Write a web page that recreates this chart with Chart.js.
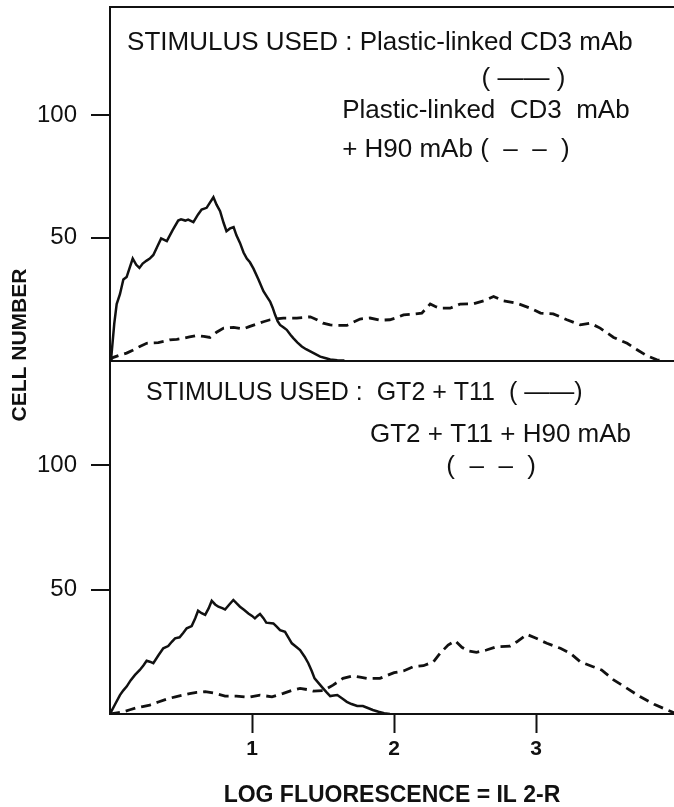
<!DOCTYPE html>
<html>
<head>
<meta charset="utf-8">
<title>IL 2-R fluorescence histograms</title>
<script src="https://cdn.jsdelivr.net/npm/chart.js@4.4.1/dist/chart.umd.min.js"></script>
<style>
  html, body { margin: 0; padding: 0; background: #fff; }
  #chart { display: block; }
</style>
</head>
<body>
<canvas id="chart" width="674" height="807"></canvas>
<script>
// values, [log fluorescence, cell number]
const topSolid = [
  [0, 0], [0.01, 2], [0.03, 15], [0.047, 23], [0.07, 27], [0.094, 33], [0.117, 34], [0.14, 38],
  [0.16, 41.5], [0.185, 39], [0.207, 37.7], [0.23, 39.5], [0.258, 40.7], [0.28, 41.5], [0.305, 43],
  [0.33, 46], [0.36, 49.7], [0.40, 48.6], [0.44, 53], [0.48, 57], [0.50, 57.5], [0.53, 57],
  [0.55, 57.4], [0.587, 56.4], [0.62, 59.5], [0.645, 61.5], [0.68, 62.2], [0.70, 64], [0.728, 66.5],
  [0.75, 63.5], [0.775, 60.8], [0.80, 56], [0.82, 52.7], [0.845, 53.8], [0.87, 54.3], [0.89, 51],
  [0.915, 47.9], [0.94, 44], [0.963, 41.5], [0.985, 40], [1.01, 37.4], [1.045, 33], [1.08, 28.2],
  [1.11, 25.5], [1.127, 24], [1.145, 21.5], [1.162, 18.6], [1.18, 16], [1.197, 14.5], [1.22, 13.5],
  [1.244, 12.5], [1.27, 10.5], [1.29, 9.1], [1.32, 7.3], [1.35, 5.7], [1.38, 4.6], [1.41, 3.7],
  [1.45, 2.5], [1.48, 1.6], [1.52, 0.9], [1.55, 0.4], [1.6, 0.1], [1.65, 0]
];
const topDashed = [
  [0, 0], [0.02, 1.2], [0.06, 2], [0.117, 3], [0.16, 4.2], [0.21, 5.7], [0.258, 7], [0.30, 7.2],
  [0.34, 7.3], [0.38, 7.8], [0.42, 8.4], [0.47, 8.6], [0.516, 9.1], [0.56, 9.6], [0.61, 10.2],
  [0.66, 9.8], [0.704, 9.4], [0.75, 11.5], [0.80, 13.2], [0.87, 13.5], [0.94, 12.9], [0.98, 13.8],
  [1.03, 14.8], [1.08, 15.8], [1.127, 16.6], [1.22, 17.3], [1.315, 17.3], [1.41, 17.8], [1.46, 16.5],
  [1.50, 15.2], [1.55, 14.5], [1.60, 14.3], [1.667, 14.3], [1.71, 15.5], [1.76, 16.9], [1.83, 17.3],
  [1.90, 16.4], [1.97, 16.6], [2.02, 17.5], [2.066, 18.6], [2.136, 18.9], [2.195, 19.3], [2.254, 23],
  [2.29, 22], [2.324, 21.3], [2.394, 21.3], [2.465, 23], [2.56, 23.1], [2.63, 24.3], [2.70, 26.1],
  [2.77, 24.3], [2.864, 23.3], [2.96, 21.3], [3.03, 19.3], [3.12, 19], [3.216, 16.6], [3.31, 14.5],
  [3.38, 15.2], [3.45, 13.2], [3.545, 9.4], [3.64, 7], [3.71, 4.4], [3.78, 1.9], [3.85, 0.3], [3.88, 0]
];
const bottomSolid = [
  [0, 0], [0.035, 3.8], [0.07, 7.6], [0.094, 9.5], [0.117, 11], [0.145, 13.5], [0.176, 15.7],
  [0.21, 17.7], [0.235, 19.5], [0.258, 21.4], [0.28, 21], [0.305, 20.4], [0.34, 23.5], [0.375, 26.4],
  [0.41, 27.3], [0.435, 29], [0.458, 30.4], [0.49, 30.8], [0.515, 32.5], [0.54, 34.4], [0.575, 35.3],
  [0.60, 38.5], [0.62, 41.5], [0.645, 40.5], [0.67, 39.8], [0.695, 42.5], [0.716, 45.5], [0.74, 44],
  [0.763, 43.1], [0.79, 42.5], [0.81, 42], [0.84, 44], [0.868, 45.8], [0.89, 44.5], [0.915, 43.1],
  [0.945, 41.8], [0.974, 40.4], [1.0, 39.4], [1.02, 38.4], [1.04, 39.5], [1.056, 40.2], [1.08, 38.5],
  [1.10, 36.7], [1.15, 36.4], [1.175, 35], [1.197, 33.7], [1.232, 33], [1.255, 30.8], [1.28, 28.4],
  [1.31, 27], [1.338, 25.7], [1.37, 23], [1.396, 20.4], [1.42, 17.3], [1.44, 14.3], [1.47, 12.3],
  [1.50, 10.3], [1.525, 8.7], [1.55, 7.2], [1.575, 7.4], [1.60, 7.6], [1.635, 6.2], [1.667, 4.9],
  [1.70, 4], [1.74, 3.2], [1.78, 3.2], [1.815, 2.4], [1.85, 1.6], [1.89, 0.9], [1.93, 0.3], [1.97, 0]
];
const bottomDashed = [
  [0, 0], [0.05, 0.5], [0.094, 0.9], [0.14, 1.7], [0.188, 2.5], [0.23, 3], [0.28, 3.6], [0.34, 4.8],
  [0.40, 6], [0.46, 6.9], [0.516, 7.6], [0.56, 8.2], [0.61, 8.7], [0.67, 9], [0.74, 8.3], [0.81, 7.2],
  [0.89, 7.2], [0.974, 6.7], [1.056, 7.6], [1.14, 6.9], [1.22, 8.3], [1.28, 9.5], [1.338, 10.3],
  [1.39, 9.8], [1.43, 9.2], [1.50, 9.4], [1.57, 11.6], [1.64, 14.3], [1.71, 15.3], [1.76, 14.8],
  [1.81, 14.3], [1.90, 14.3], [1.96, 15.7], [2.0, 16.6], [2.066, 17.3], [2.136, 19], [2.206, 19.4],
  [2.277, 21], [2.324, 24.4], [2.38, 27.7], [2.43, 29.4], [2.477, 26.8], [2.52, 25.4], [2.58, 24.8],
  [2.65, 25.7], [2.72, 27], [2.817, 27.3], [2.864, 29], [2.934, 32], [3.0, 30.4], [3.075, 28.4],
  [3.17, 26.4], [3.24, 24.4], [3.31, 21], [3.40, 19], [3.46, 17.7], [3.545, 13.7], [3.64, 10.3],
  [3.73, 7], [3.83, 3.9], [3.92, 1.7], [3.97, 0.5]
];

const xTicks = [1, 2, 3];
const yTicks = [50, 100];
const xMax = 3.97;
const topMax = 144;
const bottomMax = 142;

const xTitle = 'LOG FLUORESCENCE = IL 2-R';
const yTitle = 'CELL NUMBER';

// panel captions, placed in data units of each panel
const notes = [
  { axis: 'yTop', text: 'STIMULUS USED : Plastic-linked CD3 mAb', x: 0.12, y: 129.3, align: 'left', size: 26 },
  { axis: 'yTop', text: '( —— )', x: 2.91, y: 114.7, align: 'center', size: 26 },
  { axis: 'yTop', text: 'Plastic-linked  CD3  mAb', x: 1.634, y: 101.6, align: 'left', size: 26 },
  { axis: 'yTop', text: '+ H90 mAb (  –  –  )', x: 1.634, y: 85.7, align: 'left', size: 26 },
  { axis: 'yBottom', text: 'STIMULUS USED :  GT2 + T11  ( ——)', x: 0.254, y: 128.9, align: 'left', size: 25 },
  { axis: 'yBottom', text: 'GT2 + T11 + H90 mAb', x: 1.83, y: 112, align: 'left', size: 26 },
  { axis: 'yBottom', text: '(  –  –  )', x: 2.683, y: 99.2, align: 'center', size: 26 }
];

const ink = '#111';
const family = '"Liberation Sans", Arial, Helvetica, sans-serif';

const toPoints = pairs => pairs.map(([x, y]) => ({ x, y }));

const notesPlugin = {
    id: 'notes',
    afterDraw(chart) {
        const ctx = chart.ctx;
        ctx.save();
        ctx.fillStyle = ink;
        ctx.textBaseline = 'middle';
        notes.forEach(n => {
            ctx.font = `${n.size}px ${family}`;
            ctx.textAlign = n.align;
            ctx.fillText(n.text, chart.scales.x.getPixelForValue(n.x), chart.scales[n.axis].getPixelForValue(n.y));
        });

        // one y title shared by both panels
        ctx.translate(20, 345);
        ctx.rotate(-Math.PI / 2);
        ctx.textAlign = 'center';
        ctx.font = `bold 21px ${family}`;
        ctx.fillText(yTitle, 0, 0);
        ctx.restore();
    }
};

function yAxis(max, frame) {
    return {
        type: 'linear',
        position: 'left',
        stack: 'cells',
        stackWeight: 1,
        min: 0,
        max: max,
        afterBuildTicks: s => {
            const values = frame ? [0, ...yTicks, max] : yTicks;
            s.ticks = values.map(v => ({ value: v }));
        },
        afterFit: s => {
            s.width = 110;
            // keep tick labels from pushing the plot area down
            s.paddingTop = 0;
            s.paddingBottom = 0;
        },
        border: { display: true, color: ink, width: 2 },
        grid: {
            drawOnChartArea: frame,
            lineWidth: 2,
            color: c => (c.tick && (c.tick.value === 0 || c.tick.value === max)) ? ink : 'rgba(0,0,0,0)',
            tickLength: 19,
            tickWidth: 2,
            tickColor: c => (c.tick && yTicks.includes(c.tick.value)) ? ink : 'rgba(0,0,0,0)'
        },
        ticks: {
            color: ink,
            padding: 14,
            font: { family, size: 24 },
            callback: v => yTicks.includes(v) ? String(v) : ''
        }
    };
}

new Chart(document.getElementById('chart'), {
    type: 'line',
    data: {
        datasets: [
            { data: toPoints(topSolid), yAxisID: 'yTop', borderColor: ink, borderWidth: 2.5 },
            { data: toPoints(topDashed), yAxisID: 'yTop', borderColor: ink, borderWidth: 2.8, borderDash: [10, 6] },
            { data: toPoints(bottomSolid), yAxisID: 'yBottom', borderColor: ink, borderWidth: 2.5 },
            { data: toPoints(bottomDashed), yAxisID: 'yBottom', borderColor: ink, borderWidth: 2.8, borderDash: [10, 6] }
        ]
    },
    options: {
        responsive: false,
        animation: false,
        devicePixelRatio: 1,
        layout: { padding: { top: 7, left: 0, right: 0, bottom: 0 } },
        elements: { point: { radius: 0 }, line: { tension: 0, fill: false } },
        plugins: { legend: { display: false }, tooltip: { enabled: false } },
        scales: {
            x: {
                type: 'linear',
                min: 0,
                max: xMax,
                afterBuildTicks: s => { s.ticks = xTicks.map(v => ({ value: v })); },
                afterFit: s => {
                    s.height = 93;
                    s.paddingLeft = 0;
                    s.paddingRight = 0;
                },
                border: { display: true, color: ink, width: 2 },
                grid: { drawOnChartArea: false, tickLength: 19, tickWidth: 2, tickColor: ink },
                ticks: { color: ink, padding: 6, maxRotation: 0, autoSkip: false, font: { family, size: 21, weight: 'bold', lineHeight: 1 } },
                title: { display: true, text: xTitle, color: ink, padding: { top: 0, bottom: 0 }, font: { family, size: 23, weight: 'bold', lineHeight: 1 } }
            },
            yBottom: yAxis(bottomMax, false),
            yTop: yAxis(topMax, true)
        }
    },
    plugins: [notesPlugin]
});
</script>
</body>
</html>
